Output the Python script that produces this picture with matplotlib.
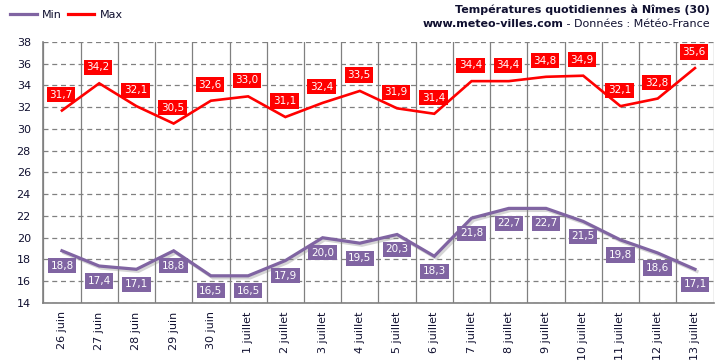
import matplotlib
matplotlib.use("Agg")
import matplotlib.pyplot as plt
import matplotlib.patheffects as pe
import numpy as np

# ---------------------------------------------------------------------------
# Données
# ---------------------------------------------------------------------------
DAYS = ["26 juin", "27 juin", "28 juin", "29 juin", "30 juin",
        "1 juillet", "2 juillet", "3 juillet", "4 juillet", "5 juillet",
        "6 juillet", "7 juillet", "8 juillet", "9 juillet", "10 juillet",
        "11 juillet", "12 juillet", "13 juillet"]
T_MIN = [18.8, 17.4, 17.1, 18.8, 16.5, 16.5, 17.9, 20.0, 19.5, 20.3,
         18.3, 21.8, 22.7, 22.7, 21.5, 19.8, 18.6, 17.1]
T_MAX = [31.7, 34.2, 32.1, 30.5, 32.6, 33.0, 31.1, 32.4, 33.5, 31.9,
         31.4, 34.4, 34.4, 34.8, 34.9, 32.1, 32.8, 35.6]
Y_TICKS = list(range(14, 39, 2))

C_MIN = "#8064A2"
C_MAX = "#FF0000"
C_GRID = "#808080"
C_TEXT = "#101030"

plt.rcParams["font.family"] = ["DejaVu Sans"]

fig = plt.figure(figsize=(7.15, 3.62), dpi=100)
ax = fig.add_axes([0.0606, 0.163, 0.9374, 0.721])

x = np.arange(len(DAYS))

ax.plot(x, T_MIN, color=C_MIN, lw=2.3, solid_joinstyle="miter", zorder=3,
        path_effects=[pe.SimpleLineShadow(offset=(1.5, -1.5), shadow_color="#888888", alpha=0.35),
                      pe.Normal()])
ax.plot(x, T_MAX, color=C_MAX, lw=1.9, solid_joinstyle="miter", zorder=3)

# étiquettes des valeurs
def fmt(v):
    return f"{v:.1f}".replace(".", ",")

for xi, v in zip(x, T_MIN):
    ax.annotate(fmt(v), (xi, v), xytext=(0, -15), textcoords="offset pixels",
                ha="center", va="center", color="white", fontsize=7.5, zorder=5,
                bbox=dict(boxstyle="square,pad=0.25", fc=C_MIN, ec="none"))
for xi, v in zip(x, T_MAX):
    ax.annotate(fmt(v), (xi, v), xytext=(-1, 16), textcoords="offset pixels",
                ha="center", va="center", color="white", fontsize=7.5, zorder=5,
                bbox=dict(boxstyle="square,pad=0.25", fc=C_MAX, ec="none"))

# axes et grille
ax.set_xlim(-0.5, len(DAYS) - 0.5)
ax.set_ylim(14, 38)
ax.set_yticks(Y_TICKS)
ax.set_yticklabels([str(t) for t in Y_TICKS], fontsize=8, color=C_TEXT)
ax.set_xticks(x)
ax.set_xticklabels(DAYS, rotation=90, fontsize=8, color=C_TEXT)
ax.set_xticks(np.arange(-0.5, len(DAYS), 1.0), minor=True)
ax.tick_params(axis="both", which="both", length=0)
ax.tick_params(axis="y", pad=9)
ax.tick_params(axis="x", pad=6)
ax.grid(axis="y", which="major", color=C_GRID, ls=(0, (4, 3)), lw=0.9)
ax.grid(axis="x", which="minor", color=C_GRID, ls="-", lw=0.9)
ax.set_axisbelow(True)
for s in ["top", "right"]:
    ax.spines[s].set_visible(False)
for s in ["left", "bottom"]:
    ax.spines[s].set_color(C_GRID)
    ax.spines[s].set_linewidth(1.2)

# légende
handles = [plt.Line2D([], [], color=C_MIN, lw=2.3), plt.Line2D([], [], color=C_MAX, lw=2.3)]
fig.legend(handles, ["Min", "Max"], loc="upper left", bbox_to_anchor=(0.0, 1.0),
           ncol=2, frameon=False, fontsize=8, handlelength=2.4, handletextpad=0.5,
           columnspacing=0.5, labelcolor=C_TEXT)

# titres
fig.text(0.993, 0.972, "Températures quotidiennes à Nîmes (30)", ha="right", va="center",
         fontsize=8, fontweight="bold", color=C_TEXT)
t2 = fig.text(0.993, 0.935, " - Données : Météo-France", ha="right", va="center",
              fontsize=8, color=C_TEXT)
ax.annotate("www.meteo-villes.com", xy=(0, 0), xycoords=t2, ha="right", va="bottom",
            fontsize=8, fontweight="bold", color=C_TEXT, annotation_clip=False)

fig.savefig("out.png", dpi=100)
